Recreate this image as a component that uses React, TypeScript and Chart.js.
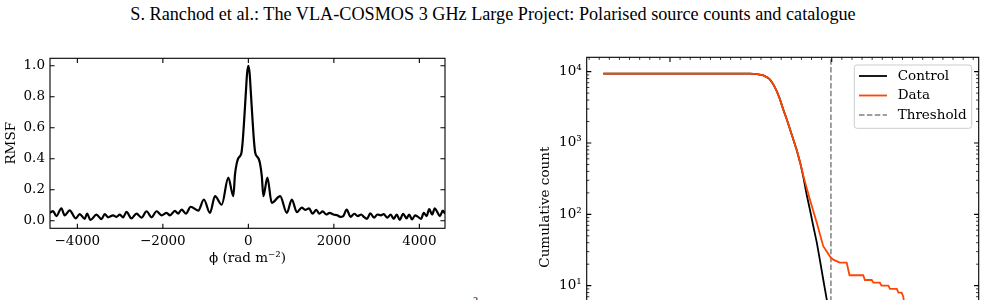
import React, { useEffect, useRef } from "react";
import { Chart, registerables } from "chart.js";

Chart.register(...registerables);

const SERIF = "'DejaVu Serif', serif";

// Rotation measure spread function against Faraday depth (rad m^-2)
const phi = [
  -4640, -4571, -4491, -4374, -4297, -4180, -4039, -3945, -3828, -3773,
  -3694, -3554, -3436, -3359, -3282, -3164, -3085, -3007, -2930, -2850,
  -2733, -2616, -2499, -2382, -2264, -2147, -2030, -1913, -1835, -1718,
  -1641, -1561, -1460, -1350, -1172, -1040, -898, -780, -623, -469,
  -352, -312, -272, -240, -200, -160, -130, -100, -60, -30,
  0, 30, 60, 100, 130, 160, 200, 240, 272, 314,
  352, 445, 548, 743, 900, 1017, 1134, 1250, 1330, 1420,
  1500, 1590, 1660, 1740, 1820, 1900, 1990, 2080, 2150, 2220,
  2300, 2390, 2480, 2560, 2640, 2700, 2775, 2853, 2940, 3020,
  3100, 3165, 3250, 3330, 3400, 3470, 3540, 3620, 3700, 3760,
  3830, 3900, 3970, 4040, 4103, 4170, 4230, 4300, 4360, 4420,
  4480, 4550, 4600,
];
const rmsf = [
  0.050, 0.062, 0.030, 0.080, 0.035, 0.067, 0.015, 0.043, 0.012, 0.046,
  0.005, 0.039, 0.010, 0.043, 0.022, 0.035, 0.025, 0.039, 0.022, 0.057,
  0.015, 0.046, 0.020, 0.061, 0.022, 0.061, 0.035, 0.050, 0.035, 0.063,
  0.046, 0.072, 0.046, 0.090, 0.065, 0.137, 0.050, 0.158, 0.104, 0.278,
  0.158, 0.300, 0.370, 0.400, 0.415, 0.440, 0.520, 0.640, 0.820, 0.950,
  1.000, 0.950, 0.820, 0.640, 0.520, 0.440, 0.415, 0.400, 0.370, 0.290,
  0.158, 0.278, 0.115, 0.158, 0.050, 0.137, 0.055, 0.085, 0.070, 0.080,
  0.045, 0.070, 0.045, 0.060, 0.040, 0.050, 0.040, 0.035, 0.025, 0.030,
  0.072, 0.025, 0.045, 0.030, 0.040, 0.025, 0.012, 0.048, 0.020, 0.040,
  0.035, 0.042, 0.020, 0.040, 0.012, 0.040, 0.005, 0.045, 0.015, 0.040,
  0.008, 0.035, 0.025, 0.012, 0.050, 0.030, 0.075, 0.040, 0.080, 0.055,
  0.030, 0.065, 0.045,
];
const phiTicks = [-4000, -2000, 0, 2000, 4000];
const rmsfTicks = [0, 0.2, 0.4, 0.6, 0.8, 1.0];

// Cumulative source counts against detection significance
const snrControl = [
  2.35, 5.98, 6.15, 6.31, 6.4, 6.47, 6.55, 6.64, 6.72, 6.8, 6.89, 6.97, 7.05, 7.13, 7.22,
  7.3, 7.38, 7.46, 7.54, 7.63, 7.71, 7.79, 7.87, 7.95, 8.05, 8.1,
];
const countControl = [
  9400, 9400, 9225, 8870, 8320, 7800, 6740, 5350, 4090, 2960, 2140, 1550, 1122, 813, 530,
  330, 190, 117, 70, 40.4, 22.5, 12.2, 6.76, 3.58, 1.76, 1,
];
const snrData = [
  2.35, 5.98, 6.15, 6.31, 6.4, 6.47, 6.55, 6.64, 6.72, 6.8, 6.89, 6.97, 7.05, 7.13, 7.22, 7.3,
  7.46, 7.63, 7.79, 7.98, 8.05, 8.2, 8.37, 8.44, 8.78, 8.82, 8.99, 9.03, 9.19, 9.23, 9.4,
  9.44, 9.61, 9.65, 9.73, 9.77, 9.8,
];
const countData = [
  9400, 9400, 9225, 8870, 8320, 7800, 6740, 5350, 4090, 2960, 2140, 1550, 1122, 813, 530, 343,
  162, 76, 35.8, 24.6, 23, 21, 21, 14, 14, 12, 12, 11, 11, 10, 10,
  9, 9, 8, 8, 7, 5,
];
const snrThreshold = 7.98;
const snrTicks = [4, 8];
const countTicks = [1, 10, 100, 1000, 10000];

const toPoints = (xs: number[], ys: number[]) => xs.map((x, i) => ({ x, y: ys[i] }));
const signed = (v: number) => (v < 0 ? "\u2212" + Math.abs(v) : String(v));
const SUP = "\u2070\u00b9\u00b2\u00b3\u2074\u2075\u2076\u2077\u2078\u2079";
const power = (v: number) =>
  "10" + String(Math.round(Math.log10(v))).split("").map((d) => SUP[Number(d)]).join("");

// minor tick positions for the count panel
const snrMinor: number[] = [];
for (let v = 2; v <= 11.6; v += 0.25) if (v % 4 !== 0) snrMinor.push(v);
const countMinor: number[] = [];
for (let e = 0; e <= 4; e++) for (let m = 2; m <= 9; m++) countMinor.push(m * Math.pow(10, e));

// box around the plot with inward ticks on all four sides
const frameTicks = (minorX: number[] = [], minorY: number[] = []) => ({
  id: "frameTicks",
  afterDraw(chart: any) {
    const { ctx, chartArea: a, scales } = chart;
    const xs = scales.x;
    const ys = scales.y;
    ctx.save();
    ctx.setLineDash([]);
    ctx.strokeStyle = "#000";
    const xTick = (v: number, len: number) => {
      const p = xs.getPixelForValue(v);
      if (p < a.left - 0.5 || p > a.right + 0.5) return;
      ctx.moveTo(p, a.bottom);
      ctx.lineTo(p, a.bottom - len);
      ctx.moveTo(p, a.top);
      ctx.lineTo(p, a.top + len);
    };
    const yTick = (v: number, len: number) => {
      const p = ys.getPixelForValue(v);
      if (p < a.top - 0.5 || p > a.bottom + 0.5) return;
      ctx.moveTo(a.left, p);
      ctx.lineTo(a.left + len, p);
      ctx.moveTo(a.right, p);
      ctx.lineTo(a.right - len, p);
    };
    ctx.lineWidth = 0.8;
    ctx.beginPath();
    minorX.forEach((v) => xTick(v, 2.6));
    minorY.forEach((v) => yTick(v, 2.6));
    ctx.stroke();
    ctx.lineWidth = 1.1;
    ctx.beginPath();
    xs.ticks.forEach((t: any) => xTick(t.value, 4.6));
    ys.ticks.forEach((t: any) => yTick(t.value, 4.6));
    ctx.stroke();
    ctx.strokeRect(a.left, a.top, a.right - a.left, a.bottom - a.top);
    ctx.restore();
  },
});

// framed legend in the upper right corner of the plot
const boxLegend = {
  id: "boxLegend",
  afterDraw(chart: any) {
    const { ctx, chartArea: a } = chart;
    const w = 117.4;
    const h = 63.3;
    const x0 = a.right - 7 - w;
    const y0 = a.top + 7.7;
    ctx.save();
    ctx.beginPath();
    ctx.roundRect(x0, y0, w, h, 2.8);
    ctx.fillStyle = "rgba(255,255,255,0.8)";
    ctx.fill();
    ctx.strokeStyle = "#cccccc";
    ctx.lineWidth = 1;
    ctx.stroke();
    ctx.font = `13.5px ${SERIF}`;
    ctx.textBaseline = "middle";
    ctx.fillStyle = "#000";
    chart.data.datasets.forEach((ds: any, i: number) => {
      const y = y0 + 11 + i * 19.5;
      ctx.beginPath();
      ctx.setLineDash(ds.borderDash || []);
      ctx.strokeStyle = ds.borderColor;
      ctx.lineWidth = ds.borderWidth;
      ctx.moveTo(x0 + 4.7, y);
      ctx.lineTo(x0 + 32.7, y);
      ctx.stroke();
      ctx.setLineDash([]);
      ctx.fillText(ds.label, x0 + 43.4, y);
    });
    ctx.restore();
  },
};

const tickFont = { family: SERIF, size: 13.5, lineHeight: 1.2 };
const noGrid = { display: false, drawTicks: false, tickLength: 0 };

function rmsfConfig(): any {
  return {
    type: "line",
    data: {
      datasets: [
        {
          data: toPoints(phi, rmsf),
          borderColor: "#000",
          borderWidth: 2.2,
          pointRadius: 0,
          cubicInterpolationMode: "monotone",
          fill: false,
        },
      ],
    },
    options: {
      responsive: false,
      animation: false,
      events: [],
      layout: { padding: { top: 18.3, right: 15, left: 0, bottom: 0 } },
      plugins: { legend: { display: false }, tooltip: { enabled: false } },
      scales: {
        x: {
          type: "linear",
          min: -4640,
          max: 4600,
          grid: noGrid,
          border: { display: false },
          afterBuildTicks: (s: any) => {
            s.ticks = phiTicks.map((value) => ({ value }));
          },
          afterFit: (s: any) => {
            s.height = 41.7;
          },
          ticks: {
            font: tickFont,
            color: "#000",
            padding: 5.5,
            maxRotation: 0,
            autoSkip: false,
            callback: (v: number) => signed(v),
          },
          title: {
            display: true,
            text: "\u03d5 (rad m\u207b\u00b2)",
            font: tickFont,
            color: "#000",
            padding: { top: 0, bottom: 3.9 },
          },
        },
        y: {
          type: "linear",
          min: -0.049,
          max: 1.048,
          grid: noGrid,
          border: { display: false },
          afterBuildTicks: (s: any) => {
            s.ticks = rmsfTicks.map((value) => ({ value }));
          },
          afterFit: (s: any) => {
            s.width = 50;
          },
          ticks: {
            font: tickFont,
            color: "#000",
            padding: 5,
            autoSkip: false,
            callback: (v: number) => v.toFixed(1),
          },
          title: {
            display: true,
            text: "RMSF",
            font: tickFont,
            color: "#000",
            padding: { top: 3.6, bottom: 0 },
          },
        },
      },
    },
    plugins: [frameTicks()],
  };
}

function countsConfig(): any {
  return {
    type: "line",
    data: {
      datasets: [
        {
          label: "Control",
          data: toPoints(snrControl, countControl),
          borderColor: "#000000",
          borderWidth: 1.8,
          pointRadius: 0,
          tension: 0,
          order: 1,
        },
        {
          label: "Data",
          data: toPoints(snrData, countData),
          borderColor: "#ff4500",
          borderWidth: 1.8,
          pointRadius: 0,
          tension: 0,
          order: 0,
        },
        {
          label: "Threshold",
          data: [
            { x: snrThreshold, y: 1 },
            { x: snrThreshold, y: 15900 },
          ],
          borderColor: "#808080",
          borderWidth: 1.5,
          borderDash: [5.5, 2.4],
          pointRadius: 0,
          order: 2,
        },
      ],
    },
    options: {
      responsive: false,
      animation: false,
      events: [],
      layout: { padding: { top: 17.3, right: 7.3, left: 0, bottom: 0 } },
      plugins: { legend: { display: false }, tooltip: { enabled: false } },
      scales: {
        x: {
          type: "linear",
          min: 1.94,
          max: 11.635,
          grid: noGrid,
          border: { display: false },
          afterBuildTicks: (s: any) => {
            s.ticks = snrTicks.map((value) => ({ value }));
          },
          afterFit: (s: any) => {
            s.height = 45;
          },
          ticks: { font: tickFont, color: "#000", padding: 5.5, maxRotation: 0, autoSkip: false },
        },
        y: {
          type: "logarithmic",
          min: 1,
          max: 15900,
          grid: noGrid,
          border: { display: false },
          afterBuildTicks: (s: any) => {
            s.ticks = countTicks.map((value) => ({ value }));
          },
          afterFit: (s: any) => {
            s.width = 66.7;
          },
          ticks: {
            font: tickFont,
            color: "#000",
            padding: 5,
            autoSkip: false,
            callback: (v: number) => power(v),
          },
          title: {
            display: true,
            text: "Cumulative count",
            font: tickFont,
            color: "#000",
            padding: { top: 16.9, bottom: 0 },
          },
        },
      },
    },
    plugins: [frameTicks(snrMinor, countMinor), boxLegend],
  };
}

function ChartCanvas({ make, width, height, left, top }: any) {
  const ref = useRef<HTMLCanvasElement>(null);
  useEffect(() => {
    const chart = new Chart(ref.current as HTMLCanvasElement, make());
    return () => chart.destroy();
  }, []);
  return (
    <canvas
      ref={ref}
      width={width}
      height={height}
      style={{ position: "absolute", left, top, width, height }}
    />
  );
}

export default function App() {
  return (
    <div
      style={{
        position: "fixed",
        left: 0,
        top: 0,
        width: 986,
        height: 300,
        overflow: "hidden",
        background: "#fff",
      }}
    >
      <div
        style={{
          position: "absolute",
          left: 0,
          top: 2,
          width: 986,
          height: 24,
          textAlign: "center",
          font: "18.2px/24px 'Liberation Serif', serif",
          color: "#000",
          whiteSpace: "nowrap",
        }}
      >
        S. Ranchod et al.: The VLA-COSMOS 3 GHz Large Project: Polarised source counts and catalogue
      </div>
      <ChartCanvas make={rmsfConfig} width={460} height={230} left={0} top={40} />
      <ChartCanvas make={countsConfig} width={466} height={362} left={520} top={40} />
      <div style={{ position: "absolute", left: 473, top: 295, font: "10px/12px 'Liberation Serif', serif", color: "#000" }}>2</div>
    </div>
  );
}
